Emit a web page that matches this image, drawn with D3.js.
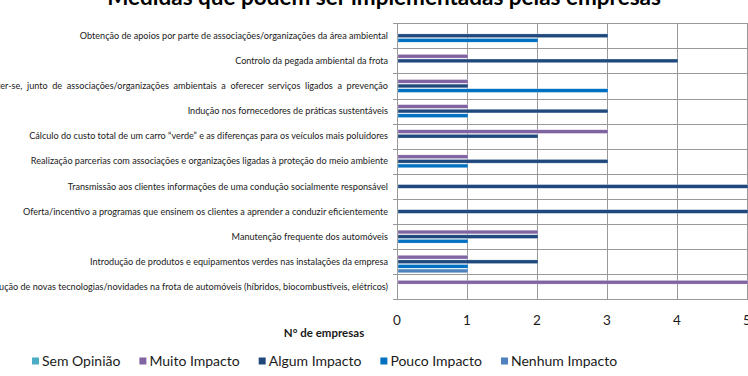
<!DOCTYPE html>
<html>
<head>
<meta charset="utf-8">
<script src="https://cdn.jsdelivr.net/npm/d3@7"></script>
<style>
  html, body { margin: 0; padding: 0; background: #fff; }
  svg { display: block; font-family: Lato, "Open Sans", sans-serif; }
</style>
</head>
<body>
<svg id="chart" width="748" height="376"></svg>
<script>
const title = "Medidas que podem ser implementadas pelas empresas";
const axisTitle = "N° de empresas";
const categories = [
  "Obtenção de apoios por parte de associações/organizações da área ambiental",
  "Controlo da pegada ambiental da frota",
  "Comprometer-se,  junto  de  associações/organizações  ambientais  a  oferecer  serviços  ligados  a  prevenção",
  "Indução nos fornecedores de práticas sustentáveis",
  "Cálculo do custo total de um carro “verde” e as diferenças para os veículos mais poluidores",
  "Realização parcerias com associações e organizações ligadas à proteção do meio ambiente",
  "Transmissão aos clientes informações de uma condução socialmente responsável",
  "Oferta/incentivo a programas que ensinem os clientes a aprender a conduzir eficientemente",
  "Manutenção frequente dos automóveis",
  "Introdução de produtos e equipamentos verdes nas instalações da empresa",
  "Introdução de novas tecnologias/novidades na frota de automóveis (híbridos, biocombustíveis, elétricos)"
];
const seriesNames = ["Sem Opinião", "Muito Impacto", "Algum Impacto", "Pouco Impacto", "Nenhum Impacto"];
const seriesColors = ["#4BACC6", "#8064A2", "#1F497D", "#0070C0", "#4F81BD"];
const semOpiniao    = [0, 0, 0, 0, 0, 0, 0, 0, 0, 0, 0];
const muitoImpacto  = [0, 1, 1, 1, 3, 1, 0, 0, 2, 1, 5];
const algumImpacto  = [3, 4, 1, 3, 2, 3, 5, 5, 2, 2, 0];
const poucoImpacto  = [2, 0, 3, 1, 0, 1, 0, 0, 1, 1, 0];
const nenhumImpacto = [0, 0, 0, 0, 0, 0, 0, 0, 0, 1, 0];
const xTicks = [0, 1, 2, 3, 4, 5];

const seriesValues = [semOpiniao, muitoImpacto, algumImpacto, poucoImpacto, nenhumImpacto];

const svg = d3.select("#chart");
const plot = { left: 397, right: 747, top: 23.2, bottom: 299.4 };

const x = d3.scaleLinear().domain([0, 5]).range([plot.left, plot.right]);
const y = d3.scaleBand().domain(categories).range([plot.top, plot.bottom]).padding(0);
const ySub = d3.scaleBand().domain(seriesNames).range([0, y.bandwidth()])
  .paddingInner(0.2).paddingOuter(0.33);

const gridColor = "#999999";

// vertical gridlines
svg.append("g").selectAll("line").data(xTicks).join("line")
  .attr("x1", d => x(d) + 0.5).attr("x2", d => x(d) + 0.5)
  .attr("y1", plot.top).attr("y2", plot.bottom)
  .attr("stroke", gridColor).attr("stroke-width", 1);

// horizontal lines at category boundaries (with outer tick)
const bounds = categories.map(c => y(c)).concat([plot.bottom]);
svg.append("g").selectAll("line").data(bounds).join("line")
  .attr("x1", plot.left - 4).attr("x2", 760)
  .attr("y1", d => Math.round(d) + 0.5).attr("y2", d => Math.round(d) + 0.5)
  .attr("stroke", gridColor).attr("stroke-width", 1);

// bars
const barData = [];
categories.forEach((c, i) => {
  seriesNames.forEach((s, j) => {
    barData.push({ cat: c, series: s, value: seriesValues[j][i], color: seriesColors[j] });
  });
});
svg.append("g").selectAll("rect").data(barData.filter(d => d.value > 0)).join("rect")
  .attr("x", x(0) + 1)
  .attr("y", d => y(d.cat) + ySub(d.series))
  .attr("width", d => x(d.value) - x(0))
  .attr("height", ySub.bandwidth())
  .attr("fill", d => d.color)
  .attr("stroke", "rgba(255,255,255,0.5)")
  .attr("stroke-width", 0.5);

// category labels
svg.append("g").selectAll("text").data(categories).join("text")
  .attr("x", 388)
  .attr("y", d => y(d) + y.bandwidth() / 2)
  .attr("dy", "0.35em")
  .attr("text-anchor", "end")
  .attr("font-size", 9.1)
  .attr("fill", "#1a1a1a")
  .style("white-space", "pre")
  .text(d => d);

// x tick labels
svg.append("g").selectAll("text").data(xTicks).join("text")
  .attr("x", d => x(d))
  .attr("y", 325)
  .attr("text-anchor", "middle")
  .attr("font-size", 13.5)
  .attr("fill", "#1a1a1a")
  .text(d => d);

// axis title
svg.append("text")
  .attr("x", 324).attr("y", 337)
  .attr("text-anchor", "middle")
  .attr("font-size", 11.5).attr("font-weight", "bold")
  .attr("fill", "#1a1a1a")
  .text(axisTitle);

// title
svg.append("text")
  .attr("x", 384).attr("y", 5)
  .attr("text-anchor", "middle")
  .attr("font-size", 22.5).attr("font-weight", "bold")
  .attr("fill", "#000")
  .text(title);

// legend
const legend = svg.append("g");
let lx = 32;
seriesNames.forEach((s, j) => {
  const g = legend.append("g").attr("transform", `translate(${lx},361)`);
  g.append("rect").attr("x", 0).attr("y", -3.5).attr("width", 7).attr("height", 7)
    .attr("fill", seriesColors[j]);
  const t = g.append("text").attr("x", 10).attr("y", 0).attr("dy", "0.35em")
    .attr("font-size", 14).attr("fill", "#1a1a1a").text(s);
  const w = t.node().getComputedTextLength();
  lx += 10 + w + 19;
});
</script>
</body>
</html>
